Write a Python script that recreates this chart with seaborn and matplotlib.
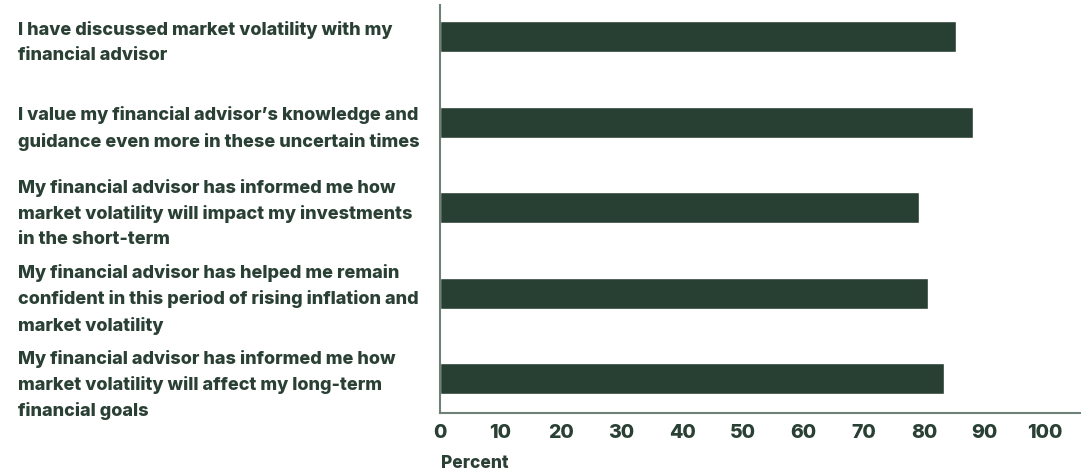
import matplotlib
matplotlib.use('Agg')
import matplotlib.pyplot as plt
import pandas as pd
import seaborn as sns

statements = [
    "I have discussed market volatility with my\nfinancial advisor",
    "I value my financial advisor\u2019s knowledge and\nguidance even more in these uncertain times",
    "My financial advisor has informed me how\nmarket volatility will impact my investments\nin the short-term",
    "My financial advisor has helped me remain\nconfident in this period of rising inflation and\nmarket volatility",
    "My financial advisor has informed me how\nmarket volatility will affect my long-term\nfinancial goals",
]
percent = [85.3, 88.1, 79.2, 80.7, 83.3]
xticks = [0, 10, 20, 30, 40, 50, 60, 70, 80, 90, 100]

bar_color = '#283f33'
text_color = '#2a4034'
axis_color = '#6f8077'

df = pd.DataFrame({'statement': statements, 'percent': percent})

sns.set_style('white')
plt.rcParams['font.family'] = ['Inter', 'DejaVu Sans']

fig = plt.figure(figsize=(10.81, 4.73), dpi=100)
ax = fig.add_axes([0.407, 0.127, 0.593, 0.862])

sns.barplot(data=df, y='statement', x='percent', orient='h', color=bar_color,
            width=0.363, saturation=1, ax=ax)

ax.set_xlim(0, 105.9)
ax.set_ylim(4.4, -0.37)
ax.set_xticks(xticks)
ax.set_xticklabels([str(t) for t in xticks], fontsize=14, fontweight='heavy', color=text_color)
ax.tick_params(axis='x', direction='in', length=4, width=1.2, color=axis_color, pad=8)
ax.tick_params(axis='y', length=0, pad=304)
for lab in ax.get_yticklabels():
    lab.set_horizontalalignment('left')
    lab.set_fontsize(13)
    lab.set_fontweight('heavy')
    lab.set_color(text_color)
    lab.set_linespacing(1.6)

ax.set_ylabel('')
ax.set_xlabel('')
fig.text(0.4075, 0.003, 'Percent', ha='left', va='bottom', fontsize=12.5,
         fontweight='heavy', color=text_color)

for s in ['top', 'right']:
    ax.spines[s].set_visible(False)
for s in ['left', 'bottom']:
    ax.spines[s].set_color(axis_color)
    ax.spines[s].set_linewidth(1.5)

plt.savefig('out.png', dpi=100)
